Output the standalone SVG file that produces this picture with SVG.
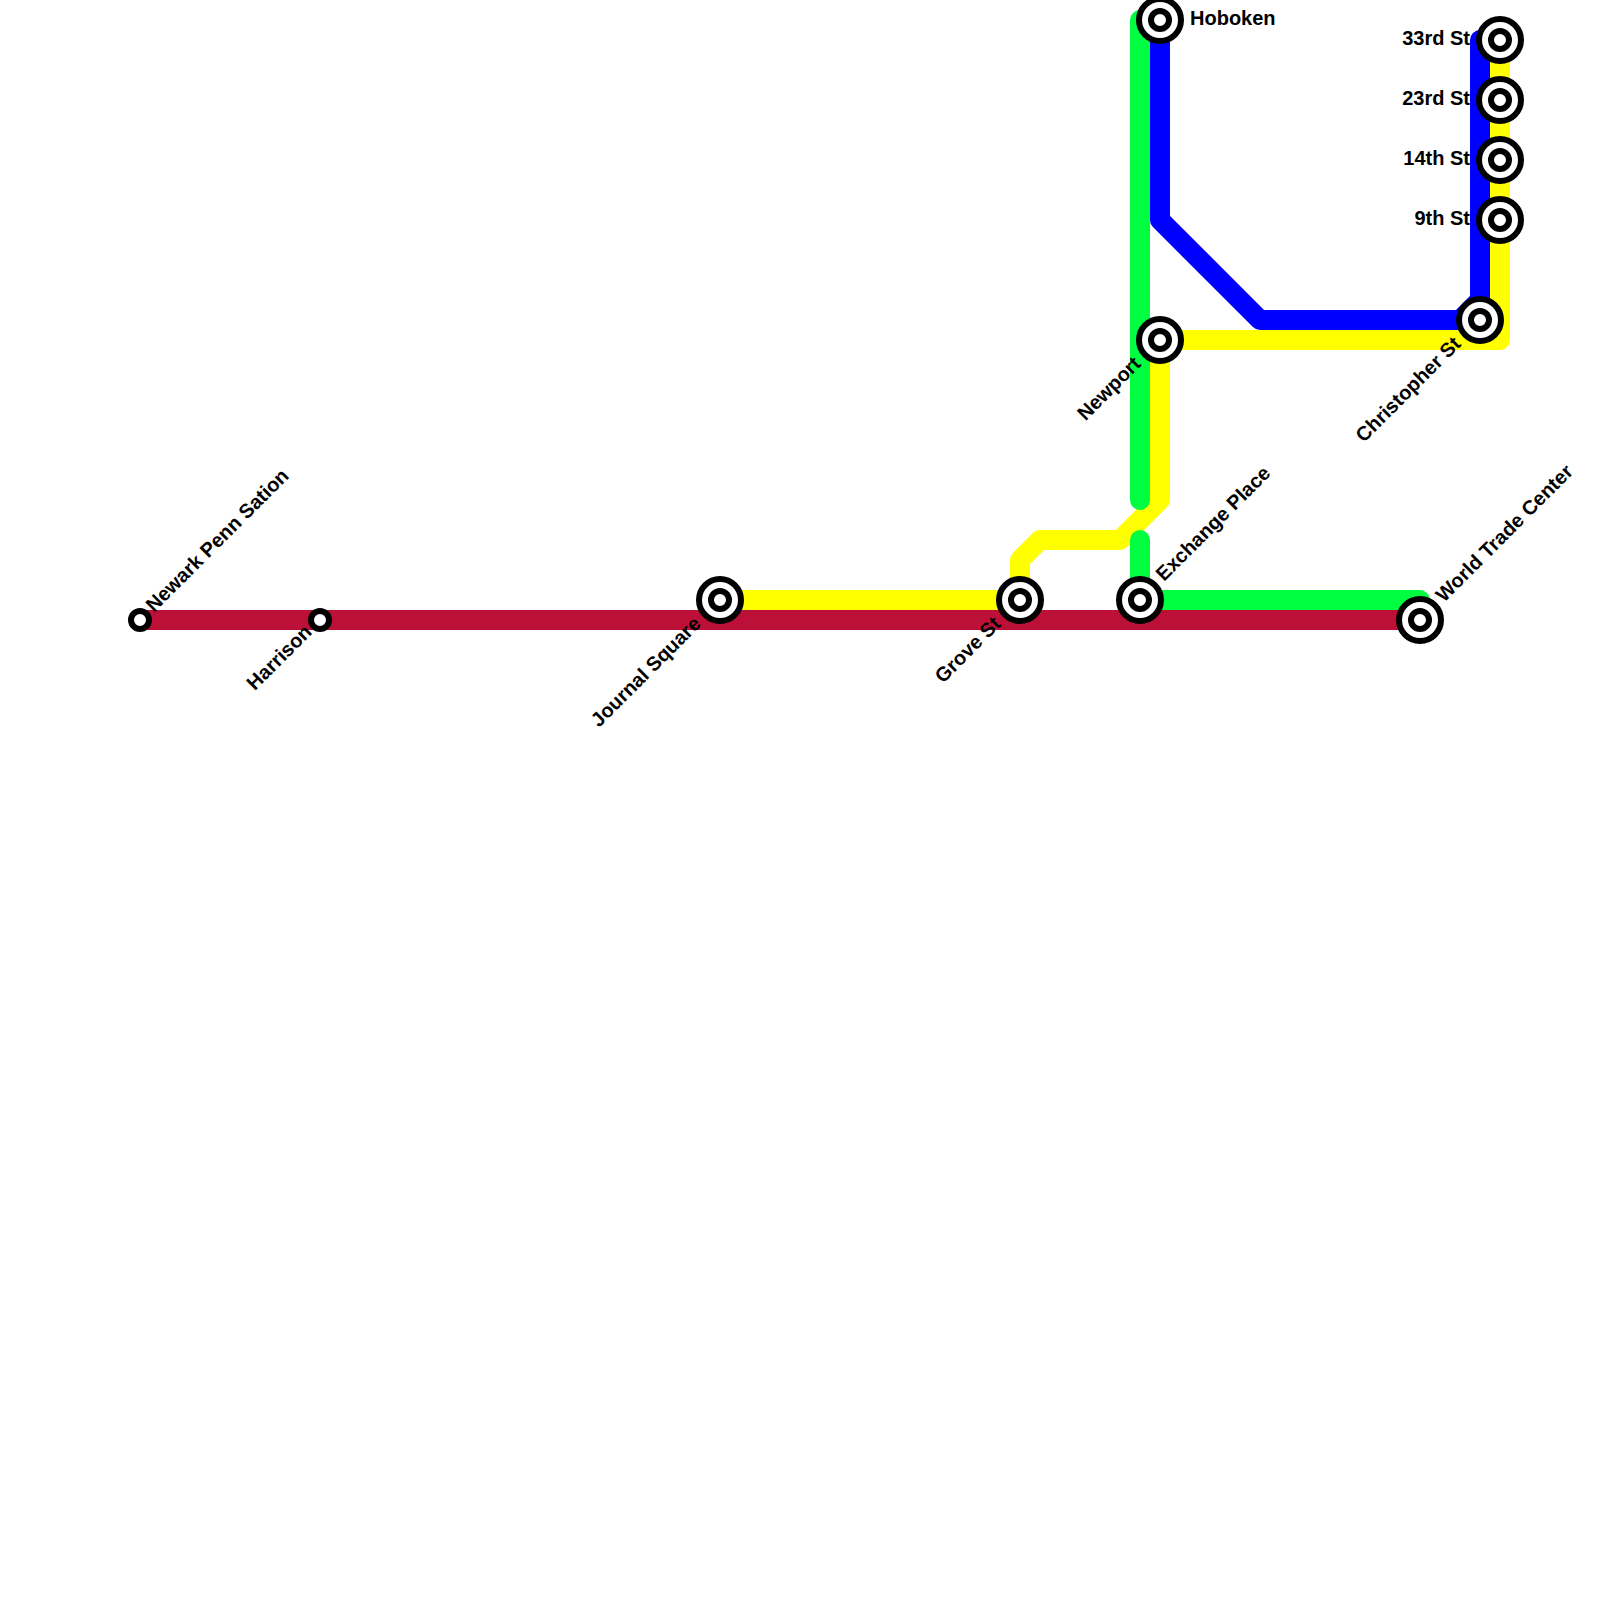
<svg xmlns="http://www.w3.org/2000/svg" width="1600" height="1600" viewBox="0 0 1600 1600">
<style>
.l{fill:none;stroke-width:20;stroke-linecap:round;stroke-linejoin:round}
.o{fill:#fff;stroke:#000;stroke-width:6}
text{font-family:"Liberation Sans",Arial,sans-serif;font-size:20px;font-weight:700;fill:#000}
.e{text-anchor:end}
</style>
<defs>
<g id="big"><circle class="o" r="21"/><circle class="o" r="9"/></g>
<g id="small"><circle class="o" r="9"/></g>
</defs>
<rect width="1600" height="1600" fill="#fff"/>
<g id="connectors">
<path class="l" stroke="#ffff00" d="M720 600H1020V560L1040 540H1120L1160 500V340H1500V40"/>
<path class="l" stroke="#00ff40" d="M1140 20V500M1140 540V600H1420V620"/>
<path class="l" stroke="#bd1038" style="stroke-linecap:butt" d="M140 620H1420"/>
<path class="l" stroke="#0000ff" d="M1160 20V220L1260 320H1460L1480 300V40"/>
</g>
<g id="newark"><use href="#small" x="140" y="620"/><text transform="translate(154 613) rotate(-45)">Newark Penn Sation</text></g>
<g id="harrison"><use href="#small" x="320" y="620"/><text class="e" transform="translate(313 633) rotate(-45)">Harrison</text></g>
<g id="journal"><use href="#big" x="720" y="600"/><text class="e" transform="translate(702 625) rotate(-45)">Journal Square</text></g>
<g id="grove"><use href="#big" x="1020" y="600"/><text class="e" transform="translate(1002 625) rotate(-45)">Grove St</text></g>
<g id="exchange"><use href="#big" x="1140" y="600"/><text transform="translate(1164 582) rotate(-45)">Exchange Place</text></g>
<g id="wtc"><use href="#big" x="1420" y="620"/><text transform="translate(1444 603) rotate(-45)">World Trade Center</text></g>
<g id="newport"><use href="#big" x="1160" y="340"/><text class="e" transform="translate(1142 365) rotate(-45)">Newport</text></g>
<g id="christopher"><use href="#big" x="1480" y="320"/><text class="e" transform="translate(1462 345) rotate(-45)">Christopher St</text></g>
<g id="hoboken"><use href="#big" x="1160" y="20"/><text x="1190" y="25">Hoboken</text></g>
<g id="s33"><use href="#big" x="1500" y="40"/><text class="e" x="1470" y="45">33rd St</text></g>
<g id="s23"><use href="#big" x="1500" y="100"/><text class="e" x="1470" y="105">23rd St</text></g>
<g id="s14"><use href="#big" x="1500" y="160"/><text class="e" x="1470" y="165">14th St</text></g>
<g id="s9"><use href="#big" x="1500" y="220"/><text class="e" x="1470" y="225">9th St</text></g>
</svg>
